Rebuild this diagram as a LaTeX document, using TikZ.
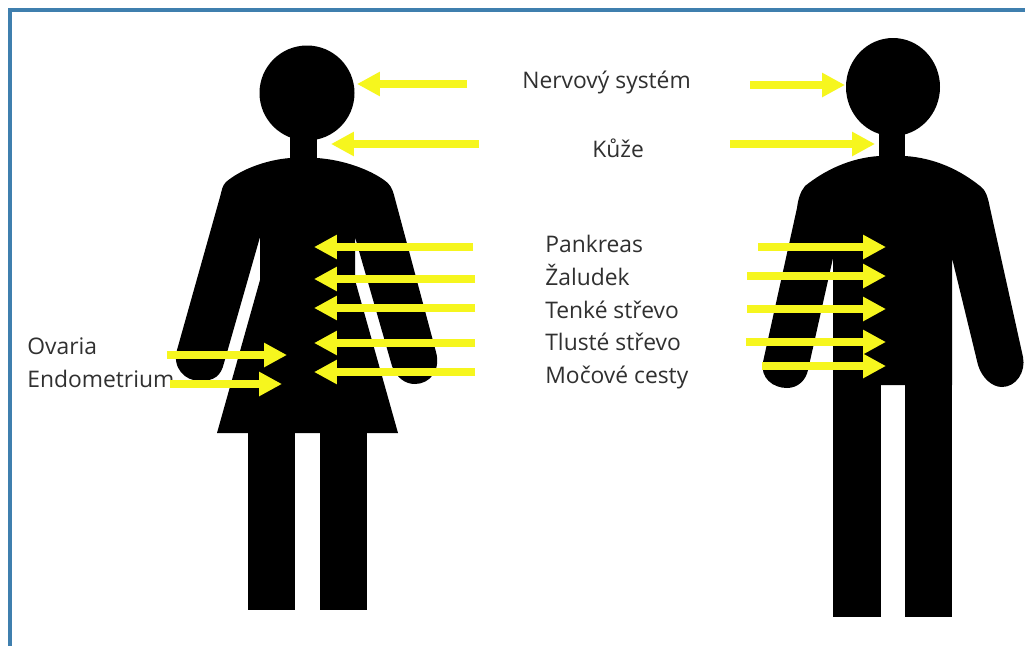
\documentclass[tikz,border=0pt]{standalone}
\usepackage{fontspec}
\usepackage{tikz}
\usetikzlibrary{arrows.meta}
\setmainfont{Open Sans}
\definecolor{marker}{HTML}{F6F61E}
\definecolor{frameblue}{HTML}{3F7FAE}
\definecolor{labelgrey}{HTML}{303030}

\begin{document}
\begin{tikzpicture}[x=0.02cm,y=-0.02cm,>={Triangle[length=0.46cm,width=0.46cm]},
  pointer/.style={->,draw=marker,line width=0.16cm},
  organ/.style={anchor=base west,inner sep=0pt,text=labelgrey,font=\fontsize{13pt}{15pt}\selectfont},
  figure/.style={fill=black}]
  \useasboundingbox (0,0) rectangle (1025,646);
  \fill[white] (0,0) rectangle (1025,646);
  \draw[frameblue,line width=0.07cm] (10,646)--(10,10)--(1025,10);

  % woman
  \fill[figure] (307,93) circle (47.5);
  \fill[figure] (290,130) rectangle (317,170);
  \fill[figure] (248,425) rectangle (295,610);
  \fill[figure] (320,425) rectangle (367,610);
  \fill[figure] (290,158) .. controls (265,160) and (240,170) .. (226,182)
    .. controls (222,186) and (222,190) .. (220,197)
    -- (177,350) .. controls (172,368) and (185,381) .. (200,381)
    .. controls (214,381) and (221,376) .. (224,363)
    -- (260,237) -- (260,280) -- (217,433) -- (398,433)
    -- (355,280) -- (355,237) -- (392,366)
    .. controls (397,378) and (405,384) .. (415,384)
    .. controls (430,384) and (441,370) .. (436,352)
    -- (394,195) .. controls (392,188) and (390,184) .. (384,180)
    .. controls (370,170) and (345,160) .. (317,158) -- cycle;

  % man
  \fill[figure] (893,87) ellipse (47 and 49);
  \fill[figure] (879,125) rectangle (905,170);
  \fill[figure] (833,380) rectangle (881,617);
  \fill[figure] (905,380) rectangle (952,617);
  \fill[figure] (879,156) .. controls (850,158) and (825,170) .. (805,186)
    .. controls (800,192) and (798,200) .. (797,208)
    -- (763,362) .. controls (760,378) and (773,388) .. (787,388)
    .. controls (798,388) and (806,380) .. (808,370)
    -- (833,258) -- (833,385) -- (952,385) -- (952,258) -- (978,365)
    .. controls (982,378) and (992,387) .. (1002,387)
    .. controls (1016,387) and (1026,372) .. (1023,357)
    -- (990,208) .. controls (988,198) and (986,190) .. (980,186)
    .. controls (960,170) and (935,158) .. (905,156) -- cycle;

  % labels
  \node[organ] (nerves) at (522,88) {Nervový systém};
  \node[organ] (skin) at (592,157) {Kůže};
  \node[organ] (pancreas) at (545,252) {Pankreas};
  \node[organ] (stomach) at (545,285) {Žaludek};
  \node[organ] (smallgut) at (545,318) {Tenké střevo};
  \node[organ] (largegut) at (545,350) {Tlusté střevo};
  \node[organ] (urinary) at (545,383) {Močové cesty};
  \node[organ] (ovaria) at (27,354) {Ovaria};
  \node[organ] (endometrium) at (27,387) {Endometrium};

  % arrows, woman
  \coordinate (wa) at (467,84); \coordinate (wA) at (357,84);
  \coordinate (wb) at (479,144); \coordinate (wB) at (331,144);
  \coordinate (wc) at (473,247); \coordinate (wC) at (314,247);
  \coordinate (wd) at (475,279); \coordinate (wD) at (314,279);
  \coordinate (we) at (475,308); \coordinate (wE) at (314,308);
  \coordinate (wf) at (475,343); \coordinate (wF) at (314,343);
  \coordinate (wg) at (475,372); \coordinate (wG) at (314,372);
  \coordinate (wh) at (167,355); \coordinate (wH) at (287,355);
  \coordinate (wi) at (170,384); \coordinate (wI) at (282,384);
  \draw[pointer] (wa)--(wA);
  \draw[pointer] (wb)--(wB);
  \draw[pointer] (wc)--(wC);
  \draw[pointer] (wd)--(wD);
  \draw[pointer] (we)--(wE);
  \draw[pointer] (wf)--(wF);
  \draw[pointer] (wg)--(wG);
  \draw[pointer] (wh)--(wH);
  \draw[pointer] (wi)--(wI);

  % arrows, man
  \coordinate (ma) at (750,85); \coordinate (mA) at (845,85);
  \coordinate (mb) at (730,144); \coordinate (mB) at (875,144);
  \coordinate (mc) at (758,247); \coordinate (mC) at (886,247);
  \coordinate (md) at (747,276); \coordinate (mD) at (886,276);
  \coordinate (me) at (747,309); \coordinate (mE) at (886,309);
  \coordinate (mf) at (746,342); \coordinate (mF) at (886,342);
  \coordinate (mg) at (762,366); \coordinate (mG) at (886,366);
  \draw[pointer] (ma)--(mA);
  \draw[pointer] (mb)--(mB);
  \draw[pointer] (mc)--(mC);
  \draw[pointer] (md)--(mD);
  \draw[pointer] (me)--(mE);
  \draw[pointer] (mf)--(mF);
  \draw[pointer] (mg)--(mG);
\end{tikzpicture}
\end{document}
